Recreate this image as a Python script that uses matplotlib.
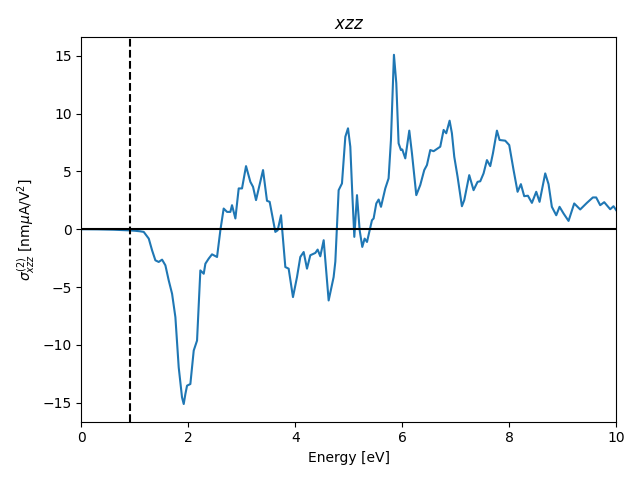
import matplotlib
matplotlib.use("Agg")
import matplotlib.pyplot as plt

energy = [0.0, 0.3, 0.6, 0.9, 1.0, 1.1, 1.165, 1.259, 1.321, 1.383, 1.445, 1.508, 1.570, 1.632,
          1.695, 1.757, 1.819, 1.881, 1.913, 1.944, 1.975, 2.037, 2.100, 2.162, 2.224, 2.287,
          2.318, 2.380, 2.442, 2.536, 2.598, 2.660, 2.723, 2.785, 2.816, 2.879, 2.941, 3.003,
          3.078, 3.159, 3.209, 3.265, 3.396, 3.470, 3.520, 3.626, 3.670, 3.732, 3.813, 3.875,
          3.956, 4.031, 4.093, 4.156, 4.218, 4.280, 4.374, 4.417, 4.467, 4.530, 4.623, 4.716,
          4.748, 4.810, 4.872, 4.935, 4.985, 5.028, 5.065, 5.103, 5.153, 5.203, 5.252, 5.296,
          5.340, 5.433, 5.464, 5.514, 5.558, 5.602, 5.682, 5.744, 5.788, 5.844, 5.888, 5.931,
          5.975, 6.000, 6.056, 6.131, 6.181, 6.262, 6.336, 6.411, 6.461, 6.523, 6.586, 6.648,
          6.710, 6.773, 6.822, 6.885, 6.928, 6.972, 7.034, 7.115, 7.159, 7.252, 7.333, 7.408,
          7.458, 7.520, 7.583, 7.645, 7.695, 7.770, 7.819, 7.925, 8.000, 8.081, 8.156, 8.218,
          8.280, 8.349, 8.424, 8.505, 8.567, 8.673, 8.735, 8.797, 8.879, 8.941, 9.016, 9.109,
          9.215, 9.327, 9.452, 9.564, 9.626, 9.701, 9.776, 9.888, 9.950, 10.0]
sigma = [0.0, -0.01, -0.04, -0.1, -0.13, -0.18, -0.23, -0.81, -1.82, -2.69, -2.83, -2.63, -3.12, -4.42,
         -5.58, -7.6, -11.94, -14.54, -15.12, -14.25, -13.53, -13.39, -10.49, -9.63, -3.56, -3.85,
         -2.98, -2.54, -2.17, -2.4, -0.09, 1.79, 1.5, 1.5, 2.08, 0.93, 3.53, 3.53,
         5.46, 4.1, 3.67, 2.52, 5.12, 2.46, 2.37, -0.23, -0.09, 1.21, -3.27, -3.41,
         -5.87, -4.14, -2.4, -1.97, -3.41, -2.25, -2.05, -1.76, -2.34, -0.95, -6.16, -4.14,
         -2.8, 3.38, 3.96, 8.0, 8.73, 7.14, 3.09, -0.66, 2.95, -0.09, -1.53, -0.81,
         -1.1, 0.78, 0.93, 2.23, 2.57, 1.94, 3.53, 4.4, 7.72, 15.09, 12.63, 7.43,
         6.85, 6.9, 6.13, 8.53, 6.56, 2.95, 3.82, 5.12, 5.55, 6.85, 6.75, 6.94,
         7.14, 8.59, 8.3, 9.39, 8.3, 6.27, 4.54, 1.99, 2.52, 4.68, 3.38, 4.1,
         4.15, 4.83, 5.98, 5.46, 6.56, 8.53, 7.72, 7.66, 7.28, 5.12, 3.24, 3.9,
         2.86, 2.9, 2.28, 3.24, 2.37, 4.83, 3.9, 1.94, 1.21, 1.94, 1.36, 0.72,
         2.23, 1.71, 2.28, 2.75, 2.75, 2.08, 2.34, 1.73, 1.99, 1.65]

gap_energy = 0.916

fig, ax = plt.subplots(figsize=(6.4, 4.8), dpi=100)
ax.plot(energy, sigma, color="#1f77b4")
ax.axhline(0, color="k")
ax.axvline(gap_energy, color="k", ls="--")
ax.set_xlim(0, 10)
ax.set_ylim(-16.65, 16.6)
ax.set_xlabel("Energy [eV]")
ax.set_ylabel(r"$\sigma^{(2)}_{xzz}$ [nm$\mu$A/V$^2$]")
ax.set_title(r"$xzz$")
fig.tight_layout()
fig.savefig("out.png", dpi=100)
